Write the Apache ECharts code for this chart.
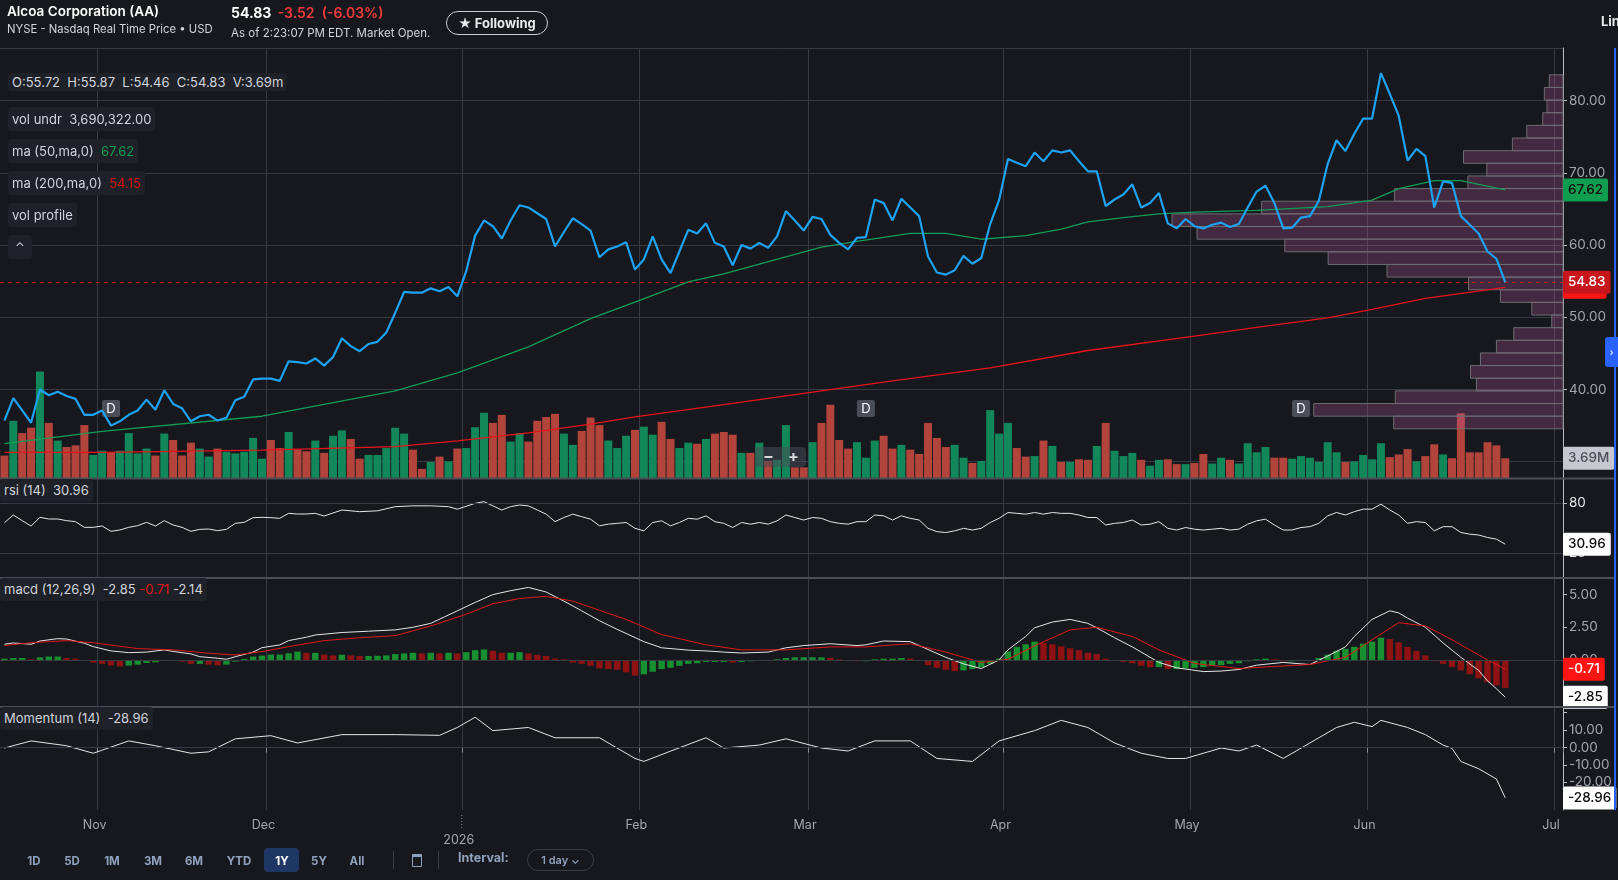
<!DOCTYPE html>
<html>
<head>
<meta charset="utf-8">
<title>Alcoa Corporation (AA)</title>
<script src="https://cdn.jsdelivr.net/npm/echarts@6.0.0/dist/echarts.min.js"></script>
<style>
  html, body { margin: 0; padding: 0; width: 1618px; height: 880px; overflow: hidden; background: #16181d; font-family: Inter, "Noto Sans", sans-serif; }
  #chart { position: absolute; left: 0; top: 0; width: 1618px; height: 880px; }
  .abs { position: absolute; white-space: nowrap; }
  .legend { position: absolute; left: 8px; height: 24px; line-height: 24px; padding: 0 4px; background: #1e2128; border-radius: 3px; color: #d1d4dc; font-size: 13px; white-space: nowrap; }
  .ind { left: 0; height: 23px; line-height: 23px; }
  .rng { position: absolute; top: 851px; transform: translateX(-50%); color: #8fa1bd; font-size: 11.5px; font-weight: 700; line-height: 20px; }
</style>
</head>
<body>
<div id="chart"></div>

<!-- header -->
<div class="abs" style="left:7px;top:3px;color:#fff;font-size:13.5px;font-weight:600;">Alcoa Corporation (AA)</div>
<div class="abs" style="left:7px;top:22px;color:#d1d4dc;font-size:11.3px;">NYSE - Nasdaq Real Time Price • USD</div>
<div class="abs" style="left:231px;top:4px;color:#fff;font-size:14px;font-weight:700;">54.83 <span style="color:#f23a3a;font-weight:600;margin-left:3px;">-3.52 &nbsp;(-6.03%)</span></div>
<div class="abs" style="left:231px;top:26px;color:#d1d4dc;font-size:11.5px;">As of 2:23:07 PM EDT. Market Open.</div>
<div class="abs" style="left:446px;top:11px;width:100px;height:22px;border:1px solid #c9ccd3;border-radius:12px;color:#e8eaee;font-size:13px;font-weight:700;line-height:22px;text-align:center;">★ Following</div>
<div class="abs" style="left:1601px;top:13px;color:#e8eaee;font-size:13px;font-weight:700;">Line</div>

<!-- legends -->
<div class="legend" style="top:73px;height:18px;line-height:18px;">O:55.72&nbsp; H:55.87&nbsp; L:54.46&nbsp; C:54.83&nbsp; V:3.69m</div>
<div class="legend" style="top:107px;">vol undr&nbsp; 3,690,322.00</div>
<div class="legend" style="top:139px;">ma (50,ma,0)&nbsp; <span style="color:#0f9d50">67.62</span></div>
<div class="legend" style="top:171px;">ma (200,ma,0)&nbsp; <span style="color:#d90f0f">54.15</span></div>
<div class="legend" style="top:203px;">vol profile</div>
<div class="legend" style="top:235px;width:16px;text-align:center;font-size:12px;">&#8963;</div>
<div class="legend ind" style="top:479px;">rsi (14)&nbsp; 30.96</div>
<div class="legend ind" style="top:578px;">macd (12,26,9)&nbsp; -2.85 <span style="color:#e01414">-0.71</span> -2.14</div>
<div class="legend ind" style="top:707px;">Momentum (14)&nbsp; -28.96</div>

<!-- zoom control -->
<div class="abs" style="left:755px;top:447px;width:51px;height:20px;background:rgba(70,75,86,0.55);border-radius:4px;color:#d8dade;font-size:16px;font-weight:700;line-height:19px;">
  <span style="position:absolute;left:8px;">&minus;</span><span style="position:absolute;left:33px;">+</span>
</div>

<!-- right edge tab -->
<div class="abs" style="left:1614px;top:48px;width:2px;height:762px;background:#2962ff;"></div>
<div class="abs" style="left:1605px;top:337px;width:13px;height:30px;background:#2962ff;border-radius:3px 0 0 3px;color:#fff;font-size:10px;line-height:30px;text-align:center;">&#8250;</div>

<!-- range bar -->
<div class="rng" style="left:34px;">1D</div>
<div class="rng" style="left:72px;">5D</div>
<div class="rng" style="left:112px;">1M</div>
<div class="rng" style="left:153px;">3M</div>
<div class="rng" style="left:194px;">6M</div>
<div class="rng" style="left:239px;">YTD</div>
<div class="abs" style="left:264px;top:848px;width:35px;height:24px;background:#1f3764;border-radius:4px;"></div>
<div class="rng" style="left:282px;color:#fff;">1Y</div>
<div class="rng" style="left:319px;">5Y</div>
<div class="rng" style="left:357px;">All</div>
<div class="abs" style="left:393px;top:851px;width:1px;height:18px;background:#3a3e47;"></div>
<div class="abs" style="left:412px;top:854px;width:8px;height:9px;border:1.5px solid #8fa1bd;border-top-width:3px;border-radius:1px;"></div>
<div class="abs" style="left:438px;top:851px;width:1px;height:18px;background:#3a3e47;"></div>
<div class="abs" style="left:458px;top:850px;color:#8fa1bd;font-size:12.5px;font-weight:700;">Interval:</div>
<div class="abs" style="left:527px;top:849px;width:65px;height:20px;border:1px solid #3a3e47;border-radius:11px;color:#8fa1bd;font-size:11px;font-weight:600;line-height:20px;text-align:center;">1 day &#8964;</div>

<script>
// ---------- calendar ----------
const holidays = ['2025-11-27', '2025-12-25', '2026-01-01', '2026-01-19', '2026-02-16', '2026-04-03', '2026-05-25', '2026-06-19'];
function tradingDays(start, end) {
  const out = [];
  const d = new Date(start + 'T00:00:00Z');
  const e = new Date(end + 'T00:00:00Z');
  while (d <= e) {
    const wd = d.getUTCDay();
    const s = d.toISOString().slice(0, 10);
    if (wd !== 0 && wd !== 6 && holidays.indexOf(s) < 0) out.push(s);
    d.setUTCDate(d.getUTCDate() + 1);
  }
  return out;
}
const days = tradingDays('2025-10-17', '2026-07-01');
const monthNames = ['', 'Jan', 'Feb', 'Mar', 'Apr', 'May', 'Jun', 'Jul', 'Aug', 'Sep', 'Oct', 'Nov', 'Dec'];

// ---------- data ----------
const closes = [
  35.7, 38.8, 37.1, 35.4, 40.0, 39.2, 39.7, 39.1, 38.7, 36.5, 36.5, 37.1, 35.0, 35.6, 36.5, 37.1, 38.6, 37.2, 39.9, 38.0,
  37.4, 35.6, 36.3, 36.5, 35.7, 36.1, 38.5, 39.0, 41.4, 41.5, 41.5, 41.2, 43.9, 43.8, 43.6, 44.3, 43.3, 44.5, 47.1, 46.0,
  45.3, 46.3, 46.6, 47.9, 50.6, 53.5, 53.4, 53.4, 54.0, 53.6, 54.2, 52.9, 56.4, 61.3, 63.4, 62.6, 60.9, 63.4, 65.5, 65.2,
  64.4, 63.6, 59.8, 61.8, 63.7, 62.9, 62.0, 58.3, 59.4, 59.8, 60.4, 56.6, 58.0, 61.2, 58.0, 56.1, 59.1, 62.1, 61.6, 63.0,
  60.3, 59.8, 57.2, 60.0, 59.5, 60.3, 59.6, 61.2, 64.7, 63.4, 62.0, 63.9, 63.6, 61.4, 60.3, 59.4, 61.0, 61.1, 66.3, 65.8,
  63.4, 66.4, 65.2, 64.0, 58.4, 56.2, 55.9, 56.5, 58.5, 57.4, 58.2, 62.9, 66.2, 71.9, 71.4, 70.9, 72.8, 71.6, 73.1, 72.8,
  73.1, 71.6, 70.2, 70.2, 65.4, 66.3, 67.0, 68.4, 65.2, 65.8, 67.2, 63.0, 62.3, 63.6, 62.6, 62.3, 62.8, 63.1, 62.5, 62.9,
  65.2, 67.4, 68.2, 65.8, 62.3, 62.4, 63.8, 64.0, 66.1, 71.2, 74.5, 73.0, 75.4, 77.5, 77.5, 83.8, 80.9, 77.9, 71.7, 73.3,
  72.3, 65.2, 68.8, 68.6, 64.0, 62.8, 61.6, 59.1, 58.1, 54.83
];
// daily volume, millions of shares
const volumes = [
  4.2, 10.7, 8.4, 9.4, 19.9, 10.3, 7.0, 5.8, 6.1, 9.9, 4.3, 5.1, 4.8, 5.1, 8.4, 4.6, 5.5, 4.2, 8.3, 7.1,
  4.2, 6.6, 5.5, 4.0, 5.5, 4.9, 4.6, 4.9, 7.5, 3.6, 7.1, 5.6, 8.6, 5.3, 5.0, 7.0, 4.7, 7.9, 8.9, 7.3,
  3.6, 4.3, 4.3, 5.6, 9.4, 8.3, 5.3, 1.7, 3.0, 4.0, 3.1, 5.5, 5.6, 9.5, 12.2, 10.3, 11.8, 6.8, 8.4, 6.8,
  10.7, 11.4, 12.0, 8.3, 6.2, 8.8, 11.3, 9.9, 7.0, 5.6, 7.9, 9.0, 9.6, 8.1, 10.5, 7.3, 5.6, 6.6, 6.4, 7.3,
  8.3, 8.6, 8.1, 4.7, 4.7, 6.6, 3.2, 3.4, 9.9, 2.0, 2.0, 6.7, 10.3, 13.7, 7.1, 5.5, 6.7, 3.8, 7.0, 7.9,
  5.5, 6.2, 5.3, 4.5, 10.3, 7.5, 5.8, 6.2, 3.8, 2.8, 3.2, 12.7, 8.3, 10.3, 5.6, 4.0, 4.1, 7.0, 6.0, 3.0,
  3.0, 3.5, 3.4, 6.0, 10.3, 5.1, 4.1, 4.7, 3.4, 2.3, 3.4, 3.5, 2.6, 2.6, 2.8, 4.5, 2.7, 3.8, 3.4, 2.7,
  6.5, 4.8, 5.8, 3.8, 3.8, 3.6, 4.1, 3.8, 3.0, 6.7, 4.8, 3.0, 3.1, 4.3, 3.5, 6.5, 3.9, 4.4, 5.4, 3.1,
  4.1, 6.3, 4.4, 3.7, 12.1, 4.8, 4.8, 6.7, 6.1, 3.69
];
// 1 = up day (green bar), 0 = down day (red bar)
const volUp = [
  0,1,0,0,1,0,1,0,0,0,1,1,0,1,1,1,1,0,1,0, 0,0,1,1,0,1,1,1,1,1,0,0,1,0,0,1,0,1,1,0,
  0,1,1,1,1,1,0,0,1,0,1,0,1,1,1,0,0,1,1,0, 0,0,0,1,1,0,0,0,1,1,1,0,1,1,0,0,1,1,0,1,
  0,0,0,1,0,1,0,1,1,0,0,1,0,0,0,0,1,1,1,0, 0,1,0,0,0,0,0,1,1,0,1,1,1,1,0,0,1,0,1,0,
  1,0,0,1,0,1,1,1,0,1,1,0,0,1,0,0,1,1,0,1, 1,1,1,0,0,1,1,1,1,1,1,0,1,1,1,1,0,0,0,1,
  0,0,1,0,0,0,0,0,0,0
];
// moving averages, [day index, value]
const ma50 = [[0, 32.5], [11, 34.2], [29, 36.3], [44, 39.8], [51, 42.3], [59, 45.9], [66, 49.8], [71, 52.1], [77, 54.9],
  [81, 56.0], [89, 58.7], [92, 59.7], [96, 60.5], [102, 61.6], [106, 61.6], [110, 60.8], [115, 61.3], [119, 62.2],
  [122, 63.2], [126, 63.8], [130, 64.3], [134, 64.55], [141, 64.8], [149, 65.3], [154, 66.2], [157, 67.8], [161, 68.9],
  [164, 68.9], [166, 68.4], [169, 67.62]];
const ma200 = [[0, 31.3], [11, 31.3], [29, 31.6], [44, 32.1], [51, 32.9], [59, 34.0], [66, 35.2], [71, 36.2], [81, 37.9],
  [89, 39.3], [100, 41.2], [111, 43.0], [122, 45.4], [134, 47.4], [141, 48.6], [149, 49.9], [154, 51.1], [160, 52.6],
  [169, 54.15]];
// volume profile: bin tops from 83.56 down in 1.75 steps, relative volume per bin
const profileTop = 83.56;
const profileStep = 1.75;
const profileVol = [13.7, 18.7, 16, 20.3, 36.3, 50.7, 99.7, 76.3, 95.3, 168.7, 302, 391.7, 366.7, 278.7,
  235.3, 176.3, 94.7, 62.7, 31.3, 11.3, 49.3, 66.7, 82.7, 92.7, 86.7, 168, 249.7, 169.7];
// indicators
const rsi = [[0, 56.8], [1, 66.0], [2, 59.2], [3, 52.8], [4, 63.2], [5, 61.2], [6, 61.2], [7, 59.2], [8, 58.0], [9, 51.2],
  [10, 51.2], [11, 52.8], [12, 46.4], [13, 48.0], [14, 51.2], [15, 53.2], [16, 57.2], [17, 52.8], [18, 59.2], [19, 54.0],
  [20, 51.2], [21, 46.4], [22, 48.8], [23, 49.2], [24, 47.2], [25, 48.8], [26, 56.0], [27, 57.2], [28, 62.8], [29, 63.2],
  [30, 62.8], [31, 62.0], [32, 68.0], [33, 67.2], [34, 67.2], [35, 68.0], [36, 64.8], [38, 72], [40, 70], [42, 71],
  [44, 76], [46, 77], [48, 77], [50, 76], [51, 73], [53, 80], [54, 82], [55, 77], [56, 72], [57, 76], [58, 78], [59, 77],
  [60, 72], [61, 67], [62, 58], [63, 63], [64, 67], [65, 64], [66, 61], [67, 53], [68, 55], [69, 56], [70, 57], [71, 50],
  [72, 47], [73, 57], [74, 59], [75, 53], [76, 57], [77, 62], [78, 61], [79, 65], [80, 58], [81, 56], [82, 51], [83, 57],
  [84, 55], [85, 57], [86, 55], [87, 59], [88, 66], [89, 63], [90, 60], [91, 63], [92, 62], [93, 58], [94, 56], [95, 55],
  [96, 58], [97, 58], [98, 66], [99, 65], [100, 60], [101, 65], [102, 62], [103, 60], [104, 50], [105, 46], [106, 45],
  [107, 47], [108, 50], [109, 48], [110, 50], [111, 57], [112, 62], [113, 69], [114, 68], [115, 67], [116, 69], [117, 67],
  [118, 69], [119, 68], [120, 68], [121, 66], [122, 63], [123, 63], [124, 54], [125, 56], [126, 57], [127, 60], [128, 54],
  [129, 55], [130, 58], [131, 50], [132, 48], [133, 51], [134, 49], [135, 48], [136, 49], [137, 50], [138, 48], [139, 49],
  [140, 55], [141, 59], [142, 61], [143, 54], [144, 48], [145, 48], [146, 51], [147, 52], [148, 56], [149, 65], [150, 69],
  [151, 66], [152, 70], [153, 73], [154, 73], [155, 79], [156, 72], [157, 66], [158, 56], [159, 58], [160, 57], [161, 47],
  [162, 52], [163, 52], [164, 45], [165, 43], [166, 42], [167, 39], [168, 37], [169, 30.96]];
const macdLine = [[0, 1.2], [1, 1.3], [3, 1.2], [4, 1.45], [6, 1.63], [7, 1.6], [9, 1.28], [10, 1.02], [12, 0.69], [14, 0.56],
  [16, 0.6], [18, 0.77], [19, 0.65], [21, 0.46], [22, 0.25], [24, 0.13], [25, 0.05], [26, 0.25], [28, 0.6], [29, 0.94],
  [31, 1.15], [32, 1.48], [34, 1.74], [35, 1.91], [38, 2.1], [41, 2.2], [44, 2.3], [46, 2.5], [48, 2.8], [51, 3.76],
  [53, 4.4], [55, 5.0], [57, 5.3], [59, 5.55], [61, 5.2], [63, 4.5], [65, 3.76], [67, 3.0], [69, 2.34], [72, 1.4],
  [74, 0.93], [77, 0.75], [79, 0.69], [81, 0.6], [83, 0.53], [86, 0.6], [88, 0.93], [90, 1.1], [93, 1.24], [96, 1.1],
  [97, 1.16], [99, 1.45], [102, 1.4], [104, 0.8], [106, 0.2], [108, -0.3], [110, -0.66], [112, 0.0], [113, 0.77],
  [115, 1.8], [116, 2.46], [118, 2.9], [120, 3.1], [122, 2.8], [123, 2.46], [125, 1.7], [127, 1.0], [130, -0.19],
  [132, -0.6], [135, -0.89], [137, -0.85], [139, -0.73], [141, -0.4], [144, -0.19], [146, -0.3], [147, -0.35], [149, 0.3],
  [151, 1.0], [152, 1.8], [154, 3.1], [156, 3.76], [157, 3.6], [158, 3.2], [160, 2.5], [162, 1.3], [164, 0.2], [166, -0.8],
  [167, -1.6], [168, -2.2], [169, -2.85]];
const macdSignal = [[0, 1.1], [3, 1.32], [7, 1.48], [10, 1.32], [15, 0.87], [19, 0.77], [23, 0.51], [26, 0.38], [29, 0.64],
  [32, 1.02], [36, 1.48], [40, 1.7], [44, 1.86], [48, 2.6], [52, 3.5], [55, 4.3], [58, 4.7], [61, 4.87], [64, 4.5],
  [67, 3.8], [70, 3.1], [74, 1.94], [79, 1.16], [83, 0.77], [88, 0.77], [93, 1.0], [97, 1.0], [102, 1.24], [106, 0.6],
  [110, -0.19], [113, 0.05], [116, 1.08], [120, 2.3], [123, 2.5], [127, 1.8], [130, 0.77], [134, -0.27], [139, -0.66],
  [143, -0.5], [147, -0.35], [151, 0.2], [154, 1.55], [157, 2.85], [160, 2.6], [163, 1.55], [167, 0.0], [169, -0.71]];
const macdHist = [
  0.1, 0.15, 0.15, 0.05, 0.2, 0.26, 0.26, 0.15, 0.1, 0.0, -0.2, -0.3, -0.43, -0.5, -0.43, -0.36, -0.23, -0.18, -0.02, -0.05,
  -0.13, -0.3, -0.3, -0.36, -0.41, -0.36, -0.13, 0.08, 0.26, 0.33, 0.41, 0.41, 0.51, 0.64, 0.54, 0.54, 0.41, 0.35, 0.4, 0.35,
  0.3, 0.3, 0.32, 0.35, 0.45, 0.5, 0.55, 0.5, 0.55, 0.5, 0.55, 0.5, 0.6, 0.75, 0.8, 0.7, 0.55, 0.55, 0.6, 0.5,
  0.4, 0.3, 0.1, 0.05, -0.2, -0.3, -0.45, -0.65, -0.7, -0.75, -0.95, -1.2, -1.1, -0.9, -0.7, -0.6, -0.45, -0.3, -0.25, -0.15,
  -0.15, -0.15, -0.2, -0.15, -0.1, -0.05, -0.05, 0.05, 0.15, 0.2, 0.2, 0.2, 0.2, 0.15, 0.05, -0.05, -0.1, -0.1, 0.05, 0.1,
  0.1, 0.15, 0.1, -0.05, -0.4, -0.6, -0.75, -0.85, -0.8, -0.7, -0.55, -0.3, 0.1, 0.65, 1.0, 1.2, 1.4, 1.3, 1.2, 1.05,
  0.9, 0.75, 0.55, 0.45, 0.1, -0.05, -0.15, -0.25, -0.45, -0.55, -0.55, -0.7, -0.7, -0.65, -0.6, -0.55, -0.45, -0.4, -0.3, -0.25,
  -0.1, 0.05, 0.1, 0.05, -0.1, -0.1, -0.05, 0.0, 0.15, 0.4, 0.7, 0.85, 1.0, 1.25, 1.4, 1.7, 1.6, 1.35, 1.0, 0.7,
  0.35, -0.1, -0.3, -0.55, -0.8, -1.1, -1.4, -1.7, -1.95, -2.14
];
const momentum = [[0, -0.3], [3, 3.8], [7, 1], [10, -3.3], [14, 3.8], [17, 1], [21, -3.3], [23, -2.5], [26, 5], [30, 6.8],
  [33, 2.6], [38, 7.4], [44, 7.4], [49, 7], [51, 11.5], [53, 17.4], [55, 9.7], [59, 11.5], [62, 5.6], [67, 5.6],
  [71, -6.3], [72, -8], [75, -2.1], [79, 5.6], [81, -0.3], [85, 1.4], [88, 5], [92, -0.3], [95, -2], [98, 3.8],
  [102, 3.8], [105, -6.3], [109, -8], [112, 3.8], [116, 9.7], [119, 15.6], [122, 11.5], [125, 2.6], [128, -3.3],
  [131, -6.3], [133, -6.3], [137, -0.3], [139, -2], [141, 1.4], [144, -6.3], [147, 2.6], [150, 11.5], [152, 14.5],
  [154, 12], [155, 15.6], [158, 11.5], [160, 7.4], [162, 1.4], [163, -0.5], [164, -8], [166, -12.2], [168, -18.1],
  [169, -28.96]];
const dividendDates = ['2025-11-04', '2026-03-10', '2026-05-19'];

// ---------- styling ----------
const gridColor = '#363a44';
const axisTextColor = '#a3a6af';
const monthStart = new Set();
days.forEach((s, i) => { if (i > 0 && s.slice(5, 7) !== days[i - 1].slice(5, 7)) monthStart.add(i); });
const isMonth = (idx) => monthStart.has(idx);

const GL = -3, GR = 55;
const panels = [
  { top: 48, height: 430 },   // price + volume
  { top: 479, height: 99 },   // rsi
  { top: 578, height: 129 },  // macd
  { top: 707, height: 103 }   // momentum
];

function catAxis(gridIndex, showLabels) {
  return {
    type: 'category', gridIndex: gridIndex, data: days, boundaryGap: true,
    axisLine: { show: showLabels, lineStyle: { color: '#8b8e95' } },
    axisTick: { show: showLabels, interval: isMonth, length: 5, lineStyle: { color: '#8b8e95' } },
    axisLabel: {
      show: showLabels, interval: isMonth, color: axisTextColor, fontSize: 12.5, fontFamily: 'Inter',
      margin: 8, lineHeight: 15, padding: [0, 15, 0, 0],
      formatter: (v) => {
        const m = +v.slice(5, 7);
        return m === 1 ? '\n' + v.slice(0, 4) : monthNames[m];
      }
    },
    splitLine: { show: true, interval: isMonth, lineStyle: { color: gridColor, width: 1 } }
  };
}

function valAxis(gridIndex, min, max, step, fmt, extra) {
  return Object.assign({
    type: 'value', gridIndex: gridIndex, position: 'right', min: min, max: max,
    minInterval: step, maxInterval: step, scale: true,
    axisLine: { show: true, lineStyle: { color: '#b8bcc4' } },
    axisTick: { show: true, length: 4, lineStyle: { color: '#b8bcc4' } },
    axisLabel: { color: axisTextColor, fontSize: 13.5, fontFamily: 'Inter', margin: 6, showMinLabel: false, showMaxLabel: false, formatter: fmt },
    splitLine: { show: false }
  }, extra || {});
}

// value tag on the right-hand axis (invisible line, boxed label)
function tagLine(value, text, bg, fg, lineStyle) {
  return {
    yAxis: value,
    lineStyle: lineStyle || { color: 'rgba(0,0,0,0)', width: 1 },
    label: {
      show: true, position: 'end', distance: 0, formatter: text, opacity: 1,
      backgroundColor: bg, color: fg, fontSize: 13.5, fontWeight: 500, fontFamily: 'Inter',
      padding: [5, 5, 4, 5], borderRadius: 2
    }
  };
}
function gridLine(value) {
  return { yAxis: value, lineStyle: { color: gridColor, width: 1, type: 'solid' }, label: { show: false } };
}

const chart = echarts.init(document.getElementById('chart'), null, { renderer: 'canvas' });

const option = {
  animation: false,
  backgroundColor: 'transparent',
  grid: panels.map(p => ({ left: GL, right: GR, top: p.top, height: p.height }))
    .concat([{ left: GL, right: GR, top: panels[0].top, height: panels[0].height }]),
  xAxis: [
    catAxis(0, false), catAxis(1, false), catAxis(2, false), catAxis(3, true),
    { type: 'value', gridIndex: 4, inverse: true, min: 0, max: 1566, show: false }
  ],
  yAxis: [
    valAxis(0, 27.75, 87.27, 10, (v) => v.toFixed(2), { splitLine: { show: true, lineStyle: { color: gridColor } } }),
    { type: 'value', gridIndex: 0, min: 0, max: 80.4, show: false },
    valAxis(1, -9.6, 109.2, 20, (v) => String(v), {
      axisLabel: { color: '#e4e6ea', fontSize: 13.5, fontFamily: 'Inter', margin: 6, customValues: [20, 80] },
      axisTick: { show: true, length: 4, customValues: [20, 80], lineStyle: { color: '#b8bcc4' } }
    }),
    valAxis(2, -3.6, 6.27, 2.5, (v) => v.toFixed(2)),
    valAxis(3, -35.92, 23.28, 10, (v) => (v > 15 ? '' : v.toFixed(2))),
    { type: 'value', gridIndex: 4, min: 27.75, max: 87.27, show: false }
  ],
  series: [
    {
      name: 'volume', type: 'bar', xAxisIndex: 0, yAxisIndex: 1, z: 1, barCategoryGap: '10%',
      data: volumes.map((v, i) => ({ value: v, itemStyle: { color: volUp[i] ? '#12885a' : '#b3443b' } })),
      markLine: { symbol: 'none', silent: true, z: 6, data: [tagLine(3.69, '3.69M', '#c5c8ce', '#4d5056')] }
    },
    {
      name: 'vol profile', type: 'custom', xAxisIndex: 4, yAxisIndex: 5, z: 2,
      data: profileVol.map((v, k) => [v, profileTop - (k + 1) * profileStep, profileTop - k * profileStep]),
      encode: { x: 0, y: [1, 2] },
      renderItem: (params, api) => {
        const a = api.coord([api.value(0), api.value(1)]);
        const b = api.coord([0, api.value(2)]);
        return {
          type: 'rect',
          shape: { x: a[0], y: b[1], width: b[0] - a[0], height: a[1] - b[1] },
          style: { fill: 'rgba(190,90,160,0.28)', stroke: '#6d6d72', lineWidth: 1 }
        };
      }
    },
    {
      name: 'ma200', type: 'line', xAxisIndex: 0, yAxisIndex: 0, z: 3, data: ma200, showSymbol: false,
      lineStyle: { color: '#e8131a', width: 1.3 },
      markLine: { symbol: 'none', silent: true, data: [tagLine(54.15, '54.15', '#ff1414', '#ffffff')] }
    },
    {
      name: 'ma50', type: 'line', xAxisIndex: 0, yAxisIndex: 0, z: 3, data: ma50, showSymbol: false,
      lineStyle: { color: '#139c55', width: 1.3 },
      markLine: { symbol: 'none', silent: true, data: [tagLine(67.62, '67.62', '#0f9d50', '#0b0b0b')] }
    },
    {
      name: 'close', type: 'line', xAxisIndex: 0, yAxisIndex: 0, z: 5, data: closes, showSymbol: false,
      lineStyle: { color: '#1ea2f2', width: 2.2 },
      markLine: {
        symbol: 'none', silent: true,
        data: [tagLine(54.83, '54.83', '#c8161d', '#ffffff', { type: [4, 4], color: '#b3161c', width: 1 })]
      }
    },
    {
      name: 'rsi', type: 'line', xAxisIndex: 1, yAxisIndex: 2, data: rsi, showSymbol: false,
      lineStyle: { color: '#e6e6e6', width: 1 },
      markLine: { symbol: 'none', silent: true, data: [gridLine(80), gridLine(20), tagLine(30.96, '30.96', '#ffffff', '#0b0b0b')] }
    },
    {
      name: 'hist', type: 'bar', xAxisIndex: 2, yAxisIndex: 3, barCategoryGap: '28%', z: 1,
      data: macdHist.map((v, i) => ({ value: v, itemStyle: { color: (i === 0 || v >= macdHist[i - 1]) ? '#17912f' : '#8e1212' } })),
      markLine: { symbol: 'none', silent: true, data: [gridLine(0)] }
    },
    {
      name: 'macd', type: 'line', xAxisIndex: 2, yAxisIndex: 3, data: macdLine, showSymbol: false, z: 3,
      lineStyle: { color: '#e6e6e6', width: 1 },
      markLine: { symbol: 'none', silent: true, data: [tagLine(-2.85, '-2.85', '#ffffff', '#0b0b0b')] }
    },
    {
      name: 'signal', type: 'line', xAxisIndex: 2, yAxisIndex: 3, data: macdSignal, showSymbol: false, z: 4,
      lineStyle: { color: '#e01818', width: 1 },
      markLine: { symbol: 'none', silent: true, data: [tagLine(-0.71, '-0.71', '#ff1414', '#ffffff')] }
    },
    {
      name: 'momentum', type: 'line', xAxisIndex: 3, yAxisIndex: 4, data: momentum, showSymbol: false,
      lineStyle: { color: '#e6e6e6', width: 1 },
      markLine: { symbol: 'none', silent: true, data: [gridLine(0), tagLine(-28.96, '-28.96', '#ffffff', '#0b0b0b')] }
    }
  ]
};
chart.setOption(option);

// panel separators, dividend markers, year tick
const graphics = [];
[478.5, 578, 707].forEach(y => graphics.push({
  type: 'line', silent: true, z: 10, shape: { x1: 0, y1: y, x2: 1614, y2: y }, style: { stroke: '#4b4e56', lineWidth: 2 }
}));
dividendDates.forEach(d => {
  const x = chart.convertToPixel({ xAxisIndex: 0 }, days.indexOf(d));
  graphics.push({
    type: 'group', x: x - 9, y: 400, z: 10, children: [
      { type: 'rect', shape: { x: 0, y: 0, width: 18, height: 17, r: 2 }, style: { fill: '#4a4e57' } },
      { type: 'text', style: { x: 9, y: 9, text: 'D', fill: '#ffffff', font: '13px Inter', align: 'center', verticalAlign: 'middle' } }
    ]
  });
});
const janIdx = days.findIndex(d => d.slice(5, 7) === '01');
const jx = chart.convertToPixel({ xAxisIndex: 3 }, janIdx) - (1566 / days.length) / 2;
graphics.push({ type: 'line', silent: true, shape: { x1: jx, y1: 815, x2: jx, y2: 829 }, style: { stroke: '#8b8e95', lineWidth: 1, lineDash: [1, 2] } });
chart.setOption({ graphic: graphics });
</script>
</body>
</html>
